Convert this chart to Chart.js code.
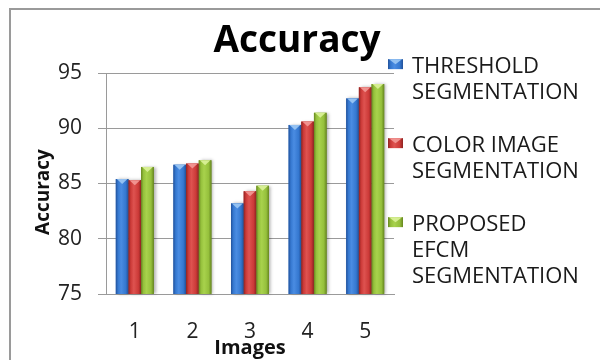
<!DOCTYPE html>
<html>
<head>
<meta charset="utf-8">
<title>Accuracy</title>
<script src="https://cdn.jsdelivr.net/npm/chart.js@4/dist/chart.umd.min.js"></script>
<style>
  html, body { margin: 0; padding: 0; background: #ffffff; }
  #wrap { width: 600px; height: 360px; position: relative; }
</style>
</head>
<body>
<div id="wrap"><canvas id="chart" width="600" height="360"></canvas></div>
<script>
// ---- data ----
const categories = ['1', '2', '3', '4', '5'];
const thresholdSeg = [85.4, 86.7, 83.2, 90.3, 92.7];
const colorImageSeg = [85.3, 86.8, 84.3, 90.6, 93.7];
const proposedEfcmSeg = [86.5, 87.1, 84.8, 91.4, 94.0];
const seriesNames = [
  ['THRESHOLD', 'SEGMENTATION'],
  ['COLOR IMAGE', 'SEGMENTATION'],
  ['PROPOSED', 'EFCM', 'SEGMENTATION']
];
const yTicks = [75, 80, 85, 90, 95];
const chartTitle = 'Accuracy';
const xTitle = 'Images';
const yTitle = 'Accuracy';

// ---- styling ----
const FONT = "'Open Sans', 'Liberation Sans', Arial, sans-serif";
const palette = [
  { base: '#3578d0', light: '#4a8ce2', dark: '#22519a', top: '#9cc8f4' },
  { base: '#cc3a38', light: '#de5350', dark: '#8e2321', top: '#f39a97' },
  { base: '#95c03c', light: '#a8d24c', dark: '#66861f', top: '#dcf29a' }
];
const seriesData = [thresholdSeg, colorImageSeg, proposedEfcmSeg];

// shaded, bevel-topped column face
function paintBevel(ctx, x, y, w, h, pal, shadow) {
  ctx.save();
  if (shadow) {
    ctx.shadowColor = 'rgba(0,0,0,0.30)';
    ctx.shadowBlur = 3;
    ctx.shadowOffsetX = 2;
    ctx.shadowOffsetY = 0;
  }
  const g = ctx.createLinearGradient(x, 0, x + w, 0);
  g.addColorStop(0, pal.dark);
  g.addColorStop(0.18, pal.base);
  g.addColorStop(0.42, pal.light);
  g.addColorStop(0.78, pal.base);
  g.addColorStop(1, pal.dark);
  ctx.fillStyle = g;
  ctx.fillRect(x, y, w, h);
  ctx.restore();
  // top bevel: light downward wedge
  ctx.save();
  ctx.fillStyle = pal.top;
  ctx.globalAlpha = 0.9;
  ctx.beginPath();
  ctx.moveTo(x + 1, y);
  ctx.lineTo(x + w - 1, y);
  ctx.lineTo(x + w / 2, y + Math.min(5, h));
  ctx.closePath();
  ctx.fill();
  ctx.restore();
}

const bevelBars = {
  id: 'bevelBars',
  afterDatasetsDraw(chart) {
    const ctx = chart.ctx;
    const area = chart.chartArea;
    chart.data.datasets.forEach((ds, i) => {
      const meta = chart.getDatasetMeta(i);
      meta.data.forEach(el => {
        const p = el.getProps(['x', 'y', 'base', 'width'], true);
        const bottom = Math.min(p.base, area.bottom);
        paintBevel(ctx, p.x - p.width / 2, p.y, p.width, bottom - p.y, palette[i], true);
      });
    });
  }
};

// outer frame lines (top and left)
const frame = {
  id: 'frame',
  beforeDraw(chart) {
    const ctx = chart.ctx;
    ctx.save();
    ctx.strokeStyle = '#9a9a9a';
    ctx.lineWidth = 2;
    ctx.beginPath();
    ctx.moveTo(10, 360);
    ctx.lineTo(10, 9);
    ctx.lineTo(600, 9);
    ctx.stroke();
    ctx.restore();
  }
};

// chart heading and vertical axis caption
const headings = {
  id: 'headings',
  afterDraw(chart) {
    const ctx = chart.ctx;
    ctx.save();
    ctx.font = 'bold 37px ' + FONT;
    ctx.fillStyle = '#000000';
    ctx.textAlign = 'center';
    ctx.textBaseline = 'alphabetic';
    ctx.fillText(chartTitle, 297, 52);
    ctx.restore();

    ctx.save();
    ctx.translate(44, 192);
    ctx.rotate(-Math.PI / 2);
    ctx.font = 'bold 19px ' + FONT;
    ctx.fillStyle = '#111111';
    ctx.textAlign = 'center';
    ctx.textBaseline = 'middle';
    ctx.fillText(yTitle, 0, 0);
    ctx.restore();
  }
};

// legend on the right, with wrapped series names
const sideLegend = {
  id: 'sideLegend',
  afterDraw(chart) {
    const ctx = chart.ctx;
    const fontSize = 22;
    const lineStep = 26;
    const itemGap = 53;
    const boxX = 388, boxW = 15, boxH = 10;
    const textX = 412;
    let baseline = 73;
    ctx.save();
    ctx.font = fontSize + 'px ' + FONT;
    ctx.fillStyle = '#1a1a1a';
    ctx.textAlign = 'left';
    ctx.textBaseline = 'alphabetic';
    chart.data.datasets.forEach((ds, i) => {
      const lines = ds.label;
      const capMid = baseline - fontSize * 0.357;
      paintBevel(ctx, boxX, capMid - boxH / 2 - 1, boxW, boxH, palette[i], false);
      lines.forEach((line, k) => {
        ctx.fillText(line, textX, baseline + k * lineStep);
      });
      baseline += (lines.length - 1) * lineStep + itemGap;
    });
    ctx.restore();
  }
};

const datasets = seriesData.map((vals, i) => ({
  label: seriesNames[i],
  data: vals,
  backgroundColor: palette[i].base,
  borderWidth: 0,
  categoryPercentage: 0.66,
  barPercentage: 1.0
}));

new Chart(document.getElementById('chart'), {
  type: 'bar',
  data: { labels: categories, datasets },
  options: {
    responsive: false,
    animation: false,
    devicePixelRatio: 1,
    layout: { padding: { top: 73, right: 206, bottom: 0, left: 11 } },
    plugins: {
      legend: { display: false },
      title: { display: false },
      tooltip: { enabled: false }
    },
    scales: {
      x: {
        grid: { display: false, drawTicks: false },
        border: { display: true, color: '#9a9a9a', width: 1 },
        ticks: { color: '#222222', font: { family: FONT, size: 21 }, padding: 25 },
        title: {
          display: true, text: xTitle, color: '#111111',
          font: { family: FONT, size: 20, weight: 'bold' },
          padding: { top: 0, bottom: 0 }
        },
        afterFit(scale) { scale.height = 66; }
      },
      y: {
        min: 75,
        max: 95,
        afterBuildTicks(scale) { scale.ticks = yTicks.map(v => ({ value: v })); },
        grid: { color: '#9a9a9a', lineWidth: 1, tickLength: 8, drawTicks: true },
        border: { display: true, color: '#9a9a9a', width: 1 },
        ticks: { color: '#222222', font: { family: FONT, size: 21 }, padding: 16 },
        title: { display: false },
        afterFit(scale) { scale.width = 95; }
      }
    }
  },
  plugins: [frame, bevelBars, headings, sideLegend]
});
</script>
</body>
</html>
